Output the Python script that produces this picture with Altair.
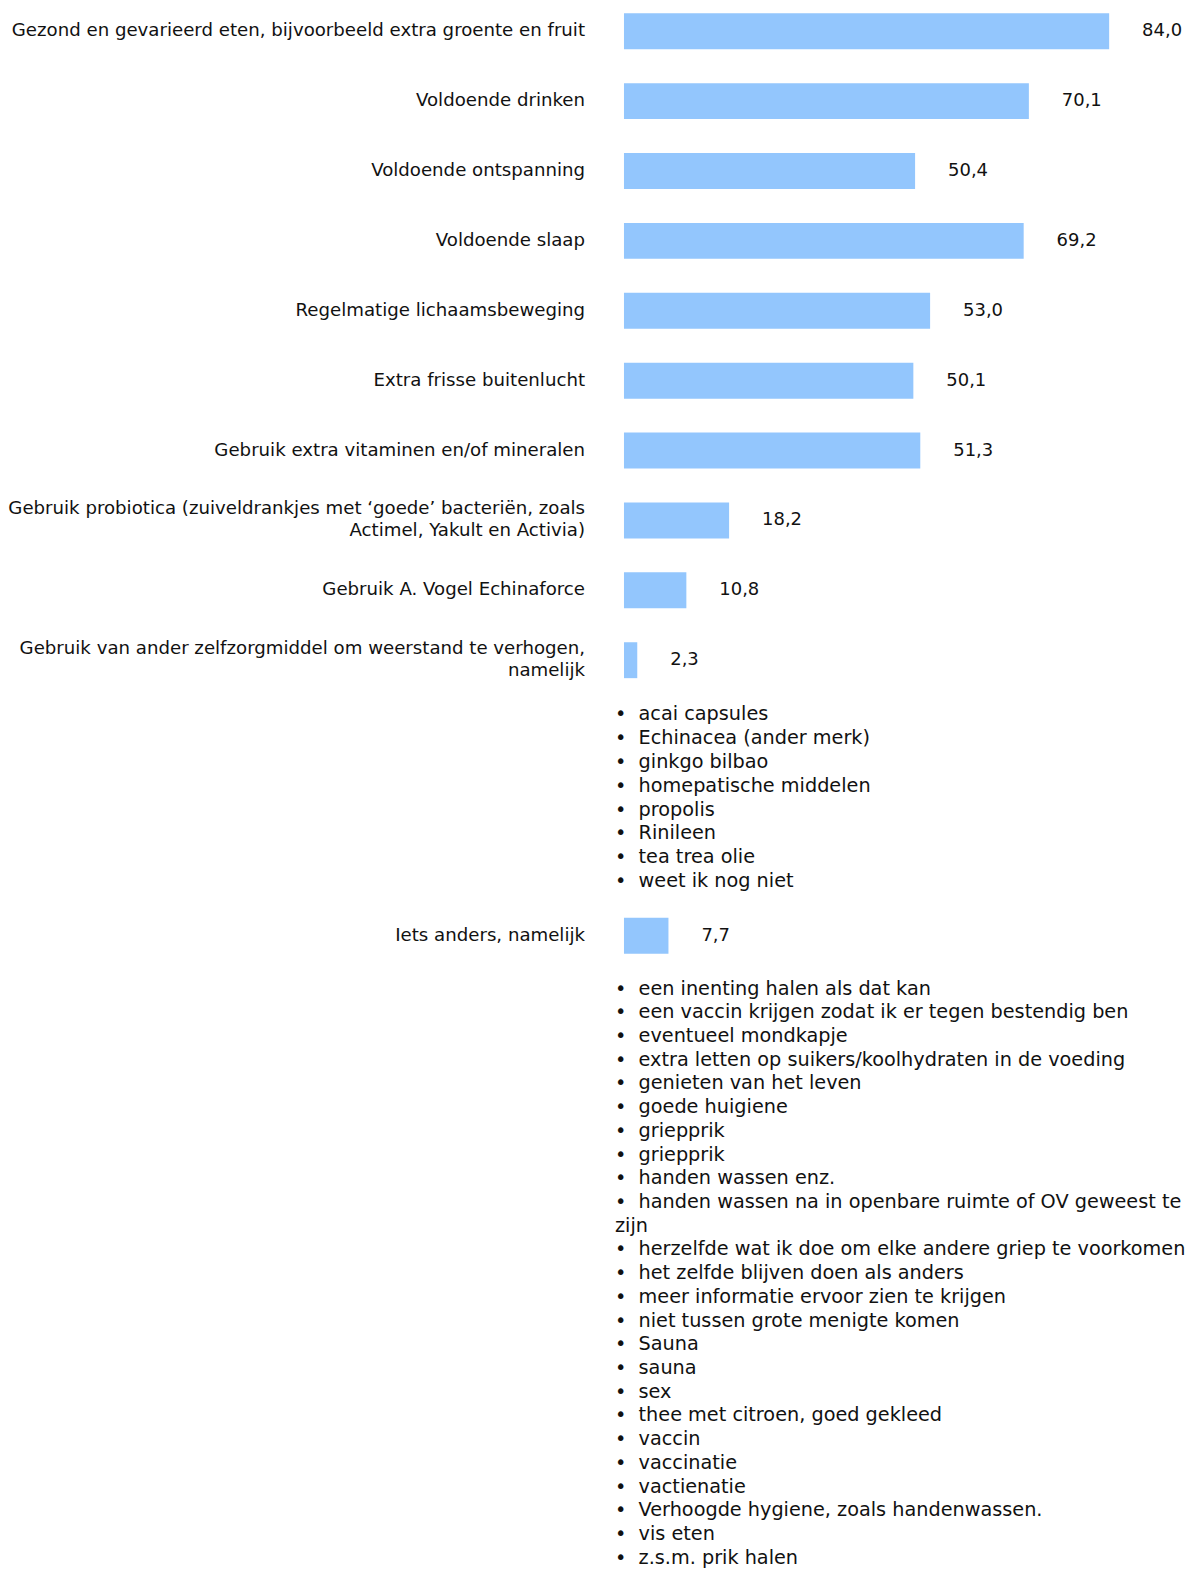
import textwrap
import altair as alt
import pandas as pd

# ---------------- data ----------------
categories = [
    "Gezond en gevarieerd eten, bijvoorbeeld extra groente en fruit",
    "Voldoende drinken",
    "Voldoende ontspanning",
    "Voldoende slaap",
    "Regelmatige lichaamsbeweging",
    "Extra frisse buitenlucht",
    "Gebruik extra vitaminen en/of mineralen",
    "Gebruik probiotica (zuiveldrankjes met \u2018goede\u2019 bacteri\u00ebn, zoals\nActimel, Yakult en Activia)",
    "Gebruik A. Vogel Echinaforce",
    "Gebruik van ander zelfzorgmiddel om weerstand te verhogen,\nnamelijk",
]
values = [84.0, 70.1, 50.4, 69.2, 53.0, 50.1, 51.3, 18.2, 10.8, 2.3]

other_category = ["Iets anders, namelijk"]
other_value = [7.7]

list_zelfzorg = [
    "acai capsules",
    "Echinacea (ander merk)",
    "ginkgo bilbao",
    "homepatische middelen",
    "propolis",
    "Rinileen",
    "tea trea olie",
    "weet ik nog niet",
]

list_anders = [
    "een inenting halen als dat kan",
    "een vaccin krijgen zodat ik er tegen bestendig ben",
    "eventueel mondkapje",
    "extra letten op suikers/koolhydraten in de voeding",
    "genieten van het leven",
    "goede huigiene",
    "griepprik",
    "griepprik",
    "handen wassen enz.",
    "handen wassen na in openbare ruimte of OV geweest te zijn",
    "herzelfde wat ik doe om elke andere griep te voorkomen",
    "het zelfde blijven doen als anders",
    "meer informatie ervoor zien te krijgen",
    "niet tussen grote menigte komen",
    "Sauna",
    "sauna",
    "sex",
    "thee met citroen, goed gekleed",
    "vaccin",
    "vaccinatie",
    "vactienatie",
    "Verhoogde hygiene, zoals handenwassen.",
    "vis eten",
    "z.s.m. prik halen",
]

# ---------------- styling ----------------
FONT = "DejaVu Sans"
BAR_COLOR = "#93C6FD"
TEXT_COLOR = "#111111"
W = 1178
X_DOMAIN = [-106.47, 97.13]
LINE_H = 22
STEP = 70
PAD_IN = 0.486
BAND = STEP * (1 - PAD_IN)
xscale = alt.Scale(domain=X_DOMAIN, nice=False, zero=False)


def fmt(v):
    return f"{v:.1f}".replace(".", ",")


def bar_panel(cats, vals, pad_outer):
    n = len(cats)
    height = STEP * (n - PAD_IN + 2 * pad_outer)
    df = pd.DataFrame({
        "cat": cats,
        "value": vals,
        "label": [fmt(v) for v in vals],
        # yOffset is measured from the band start: centre the (multi-line) label block
        "off": [BAND / 2 - c.count("\n") * LINE_H / 2 for c in cats],
    })
    y = alt.Y("cat:N", sort=cats, axis=None,
              scale=alt.Scale(type="band", paddingInner=PAD_IN, paddingOuter=pad_outer))
    base = alt.Chart(df)
    bars = base.mark_bar(color=BAR_COLOR).encode(
        x=alt.X("value:Q", scale=xscale, axis=None),
        x2=alt.datum(0),
        y=y,
    )
    vals_txt = base.mark_text(align="left", baseline="middle", dx=33, font=FONT,
                              fontSize=18, color=TEXT_COLOR).encode(
        x=alt.X("value:Q", scale=xscale, axis=None), y=y, text="label:N")
    cat_txt = base.mark_text(align="right", baseline="middle", font=FONT, fontSize=18.2,
                             lineBreak="\n", lineHeight=LINE_H, color=TEXT_COLOR).encode(
        x=alt.value(577), y=y, yOffset=alt.YOffset("off:Q", scale=None), text="cat:N")
    return (bars + vals_txt + cat_txt).properties(width=W, height=height)


def list_panel(items, step, pad_outer, align=0.5):
    lines = []
    for it in items:
        parts = textwrap.wrap(it, 55)
        lines.append("\u2022\u00a0\u00a0" + parts[0])
        lines.extend(parts[1:])
    df = pd.DataFrame({"idx": list(range(len(lines))), "line": lines})
    n = len(lines)
    height = step * (n + 2 * pad_outer)
    return alt.Chart(df).mark_text(align="left", baseline="middle", font=FONT,
                                   fontSize=19.3, color=TEXT_COLOR).encode(
        x=alt.value(607),
        y=alt.Y("idx:O", axis=None,
                scale=alt.Scale(type="band", paddingInner=0, paddingOuter=pad_outer, align=align)),
        text="line:N",
    ).properties(width=W, height=height)


panel_a = bar_panel(categories, values, 0.057)
panel_b = list_panel(list_zelfzorg, 23.9, 0.839)
panel_c = bar_panel(other_category, other_value, 0.057)
panel_d = list_panel(list_anders, 23.75, 0.402, align=1)

chart = alt.vconcat(panel_a, panel_b, panel_c, panel_d, spacing=0).properties(
    padding=0
).configure_view(stroke=None)

chart.save("out.html", embed_options={"renderer": "svg", "actions": False})
